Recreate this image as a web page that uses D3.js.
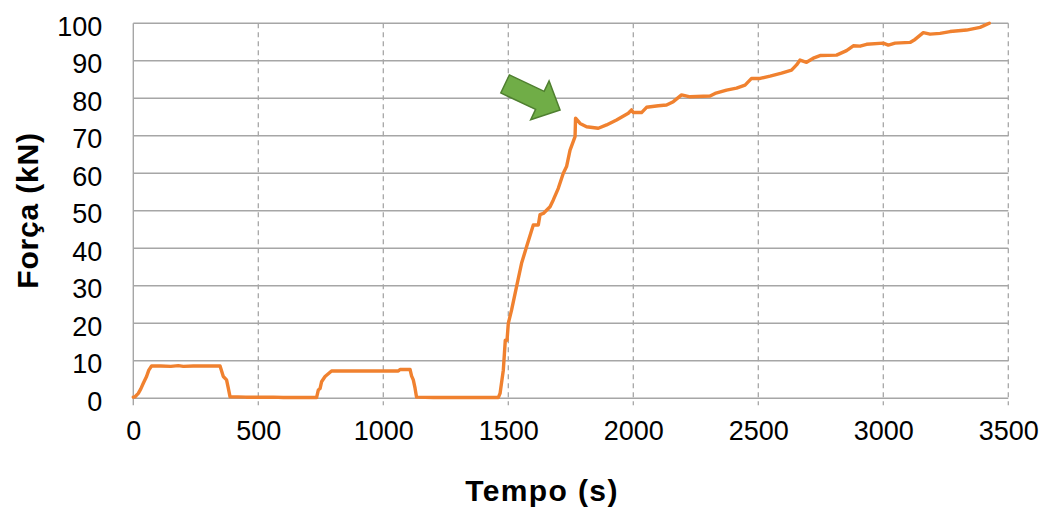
<!DOCTYPE html>
<html>
<head>
<meta charset="utf-8">
<script src="https://cdn.jsdelivr.net/npm/d3@7"></script>
<style>
  html, body { margin: 0; padding: 0; background: #fff; }
  svg { display: block; }
  text { font-family: "Liberation Sans", Arial, sans-serif; fill: #000; }
</style>
</head>
<body>
<svg id="chart" width="1046" height="510"></svg>
<script>
// Load test record: time (s) and force (kN)
const tempo = [
  0, 7, 20, 30, 40, 53, 62, 73, 110, 150, 180, 200, 240, 300, 347,
  360, 373, 380, 387, 450, 560, 600, 650, 733,
  740, 747, 753, 767, 793, 900, 1060, 1067, 1107,
  1113, 1120, 1127, 1133, 1200, 1460,
  1467, 1480, 1488, 1495, 1500, 1513, 1533, 1553, 1573, 1600, 1620, 1627, 1640,
  1667, 1680, 1700, 1720, 1733, 1747, 1767, 1769,
  1787, 1813, 1860, 1893, 1933, 1980, 1993, 2000, 2033, 2053, 2100, 2133, 2160,
  2193, 2227, 2307, 2327, 2373, 2413, 2447, 2473, 2507, 2547, 2593, 2633, 2653,
  2667, 2693, 2720, 2747, 2813, 2853, 2880, 2907, 2933, 3000, 3020, 3047, 3107,
  3127, 3160, 3187, 3227, 3267, 3333, 3387, 3424
];
const forca = [
  0.3, 0.4, 1.3, 2.5, 4.0, 5.8, 7.5, 8.6, 8.6, 8.5, 8.7, 8.5, 8.6, 8.6, 8.6,
  5.8, 4.9, 2.7, 0.4, 0.3, 0.3, 0.2, 0.2, 0.2,
  2.2, 2.6, 4.4, 5.8, 7.3, 7.3, 7.3, 7.7, 7.7,
  6.0, 4.9, 2.7, 0.3, 0.2, 0.2,
  1.3, 7.5, 15.5, 15.5, 20.0, 23.5, 29.8, 36.0, 40.4, 46.2, 46.2, 49.0, 49.3,
  51.1, 52.9, 56.0, 60.0, 61.8, 66.2, 69.8, 74.7,
  73.3, 72.4, 72.0, 72.9, 74.2, 76.0, 76.9, 76.2, 76.2, 77.6, 78.0, 78.2, 79.1,
  80.9, 80.4, 80.6, 81.3, 82.2, 82.7, 83.5, 85.3, 85.3, 85.9, 86.7, 87.5, 88.9,
  90.2, 89.6, 90.7, 91.4, 91.5, 92.7, 94.0, 93.9, 94.4, 94.7, 94.2, 94.7, 94.9,
  95.7, 97.5, 97.1, 97.3, 97.8, 98.2, 98.9, 100.0
];

// Axis ticks
const xTicks = [0, 500, 1000, 1500, 2000, 2500, 3000, 3500];
const yTicks = [0, 10, 20, 30, 40, 50, 60, 70, 80, 90, 100];

// Arrow pointing at the yield peak (data coordinates of its tip)
const arrowTip = [1707, 76.9];

const svg = d3.select("#chart");

const x = d3.scaleLinear().domain([0, 3500]).range([133.3, 1008.3]);
const y = d3.scaleLinear().domain([0, 100]).range([398.3, 23.3]);

const gridColor = "#a6a6a6";

// Horizontal gridlines (solid)
svg.append("g")
  .selectAll("line")
  .data(yTicks)
  .join("line")
  .attr("x1", x(0)).attr("x2", x(3500))
  .attr("y1", d => y(d)).attr("y2", d => y(d))
  .attr("stroke", gridColor)
  .attr("stroke-width", 1.4);

// Vertical gridlines (dashed), extending below the axis as tick marks
svg.append("g")
  .selectAll("line")
  .data(xTicks.filter(d => d > 0))
  .join("line")
  .attr("x1", d => x(d)).attr("x2", d => x(d))
  .attr("y1", y(100)).attr("y2", y(0) + 7)
  .attr("stroke", gridColor)
  .attr("stroke-width", 1.3)
  .attr("stroke-dasharray", "5,4");

// Left axis line and x tick at origin
svg.append("line")
  .attr("x1", x(0)).attr("x2", x(0))
  .attr("y1", y(100)).attr("y2", y(0) + 7)
  .attr("stroke", gridColor).attr("stroke-width", 1.4);

// X axis tick labels
const xAxis = d3.axisBottom(x).tickValues(xTicks).tickFormat(d3.format("d")).tickSize(0).tickPadding(0);
const gx = svg.append("g").attr("transform", `translate(0,${y(0)})`).call(xAxis);
gx.select(".domain").remove();
gx.selectAll("text")
  .attr("y", 42)
  .attr("dy", null)
  .style("font-family", "'Liberation Sans', Arial, sans-serif")
  .style("font-size", "27px")
  .attr("fill", "#000");

// Y axis tick labels
const yAxis = d3.axisLeft(y).tickValues(yTicks).tickFormat(d3.format("d")).tickSize(0).tickPadding(0);
const gy = svg.append("g").attr("transform", `translate(${x(0)},0)`).call(yAxis);
gy.select(".domain").remove();
gy.selectAll("text")
  .attr("x", -31)
  .attr("dy", "0.45em")
  .style("font-family", "'Liberation Sans', Arial, sans-serif")
  .style("font-size", "27px")
  .attr("fill", "#000");

// Force-time curve
const line = d3.line()
  .x((d, i) => x(tempo[i]))
  .y(d => y(d));

svg.append("path")
  .datum(forca)
  .attr("d", line)
  .attr("fill", "none")
  .attr("stroke", "#f0812f")
  .attr("stroke-width", 3.4)
  .attr("stroke-linejoin", "round")
  .attr("stroke-linecap", "round");

// Block arrow annotation
const arrowShape = [
  [-60.8, -10], [-22.3, -10], [-22.3, -21.5], [0, 0],
  [-22.3, 21.5], [-22.3, 10], [-60.8, 10]
];
svg.append("polygon")
  .attr("points", arrowShape.map(p => p.join(",")).join(" "))
  .attr("transform", `translate(${x(arrowTip[0])},${y(arrowTip[1])}) rotate(25.3)`)
  .attr("fill", "#70ad47")
  .attr("stroke", "#4f7f30")
  .attr("stroke-width", 1.5)
  .attr("stroke-linejoin", "miter");

// Axis titles
svg.append("text")
  .attr("x", 542)
  .attr("y", 501)
  .attr("text-anchor", "middle")
  .style("font-size", "30px")
  .style("font-weight", "bold")
  .style("letter-spacing", "1.4px")
  .text("Tempo (s)");

svg.append("text")
  .attr("transform", "translate(38,210.5) rotate(-90)")
  .attr("text-anchor", "middle")
  .style("font-size", "30px")
  .style("font-weight", "bold")
  .style("letter-spacing", "0.8px")
  .text("Força (kN)");
</script>
</body>
</html>
